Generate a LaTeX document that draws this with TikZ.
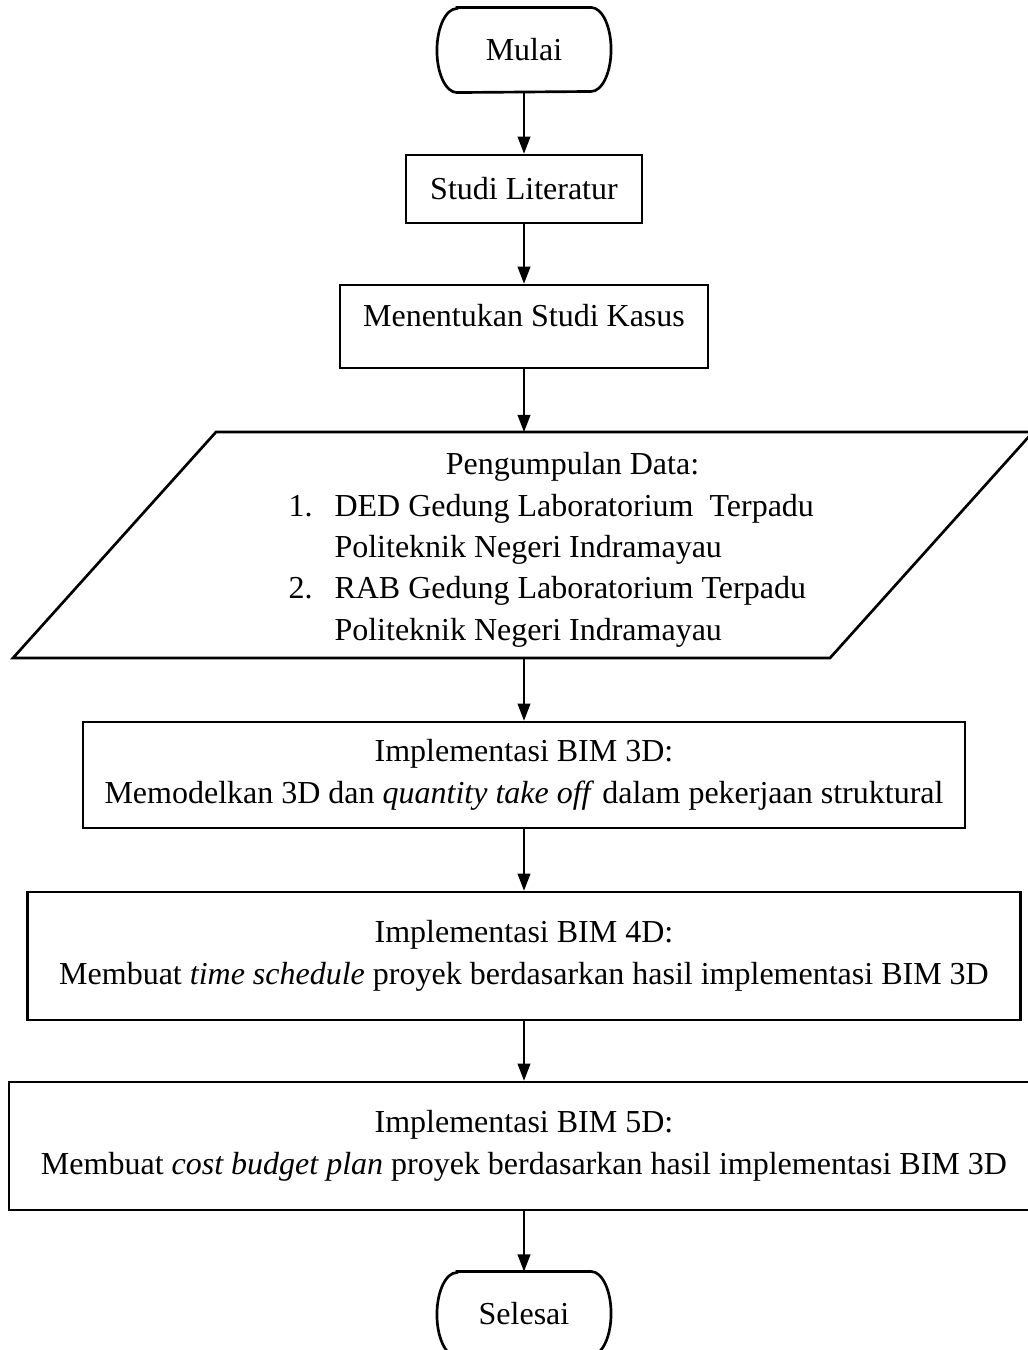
\documentclass[tikz,border=0pt]{standalone}
\usepackage{fontspec}
\setmainfont{Liberation Serif}
\usetikzlibrary{calc,arrows.meta}

\begin{document}
\begin{tikzpicture}[x=0.375pt,y=-0.375pt,
			teks/.style={font=\fontsize{12}{15.5}\selectfont},
			proses/.style={teks,draw,line width=1pt,rectangle,inner sep=0pt,align=center},
			terminal/.style={teks,rectangle,minimum width=64.9pt,minimum height=31.5pt,inner sep=0pt},
			panah/.style={-{Triangle[width=4.8pt,length=6.4pt]},line width=0.5pt}]
			\useasboundingbox (0,0) rectangle (1028,1350);
			% titik sudut jajaran genjang
			\coordinate (A) at (216,432);
			\coordinate (B) at (1033,432);
			\coordinate (C) at (830,658);
			\coordinate (D) at (13,658);
			\coordinate (datatas) at (524,432);
			\coordinate (databawah) at (524,658);

			\node[terminal] (mulai) at (524,50) {Mulai};
			\node[proses,minimum width=88.5pt,minimum height=25.5pt] (studi) at (524,189) {Studi Literatur};
			\node[proses,minimum width=138pt,minimum height=31.1pt,text height=15.6pt,text depth=15.5pt] (kasus) at (524,326.5) {Menentukan Studi Kasus};
			\draw[line width=1pt] (A) -- (B) -- (C) -- (D) -- cycle;
			\node[teks,anchor=west,align=left,inner sep=0pt] (data) at (288,550) {\hspace*{59pt}Pengumpulan Data:\\
				\makebox[17.25pt][l]{1.}DED Gedung Laboratorium\ \ Terpadu\\
				\hspace*{17.25pt}Politeknik Negeri Indramayau\\
				\makebox[17.25pt][l]{2.}RAB Gedung Laboratorium Terpadu\\
				\hspace*{17.25pt}Politeknik Negeri Indramayau};
			\node[proses,minimum width=330.75pt,minimum height=39.75pt] (bimtiga) at (524,775) {Implementasi BIM 3D:\\Memodelkan 3D dan \textit{quantity take off} dalam pekerjaan struktural};
			\node[proses,minimum width=372.4pt,minimum height=48pt] (bimempat) at (524,956) {Implementasi BIM 4D:\\Membuat \textit{time schedule} proyek berdasarkan hasil implementasi BIM 3D};
			\node[proses,minimum width=386.25pt,minimum height=48pt] (bimlima) at (524,1146) {Implementasi BIM 5D:\\Membuat \textit{cost budget plan} proyek berdasarkan hasil implementasi BIM 3D};
			\node[terminal] (selesai) at (524,1314) {Selesai};

			% bentuk terminator
			\foreach \n in {mulai,selesai}
				\draw[line width=1pt] ($(\n.north west)+(20,0)$) -- ($(\n.north east)+(-20,0)$)
					arc[start angle=90,end angle=-90,x radius=7.5pt,y radius=15.75pt]
					-- ($(\n.south west)+(20,0)$)
					arc[start angle=270,end angle=90,x radius=7.5pt,y radius=15.75pt] -- cycle;

			\draw[panah] (mulai) -- (studi);
			\draw[panah] (studi) -- (kasus);
			\draw[panah] (kasus) -- (datatas);
			\draw[panah] (databawah) -- (bimtiga);
			\draw[panah] (bimtiga) -- (bimempat);
			\draw[panah] (bimempat) -- (bimlima);
			\draw[panah] (bimlima) -- (selesai);
\end{tikzpicture}
\end{document}
